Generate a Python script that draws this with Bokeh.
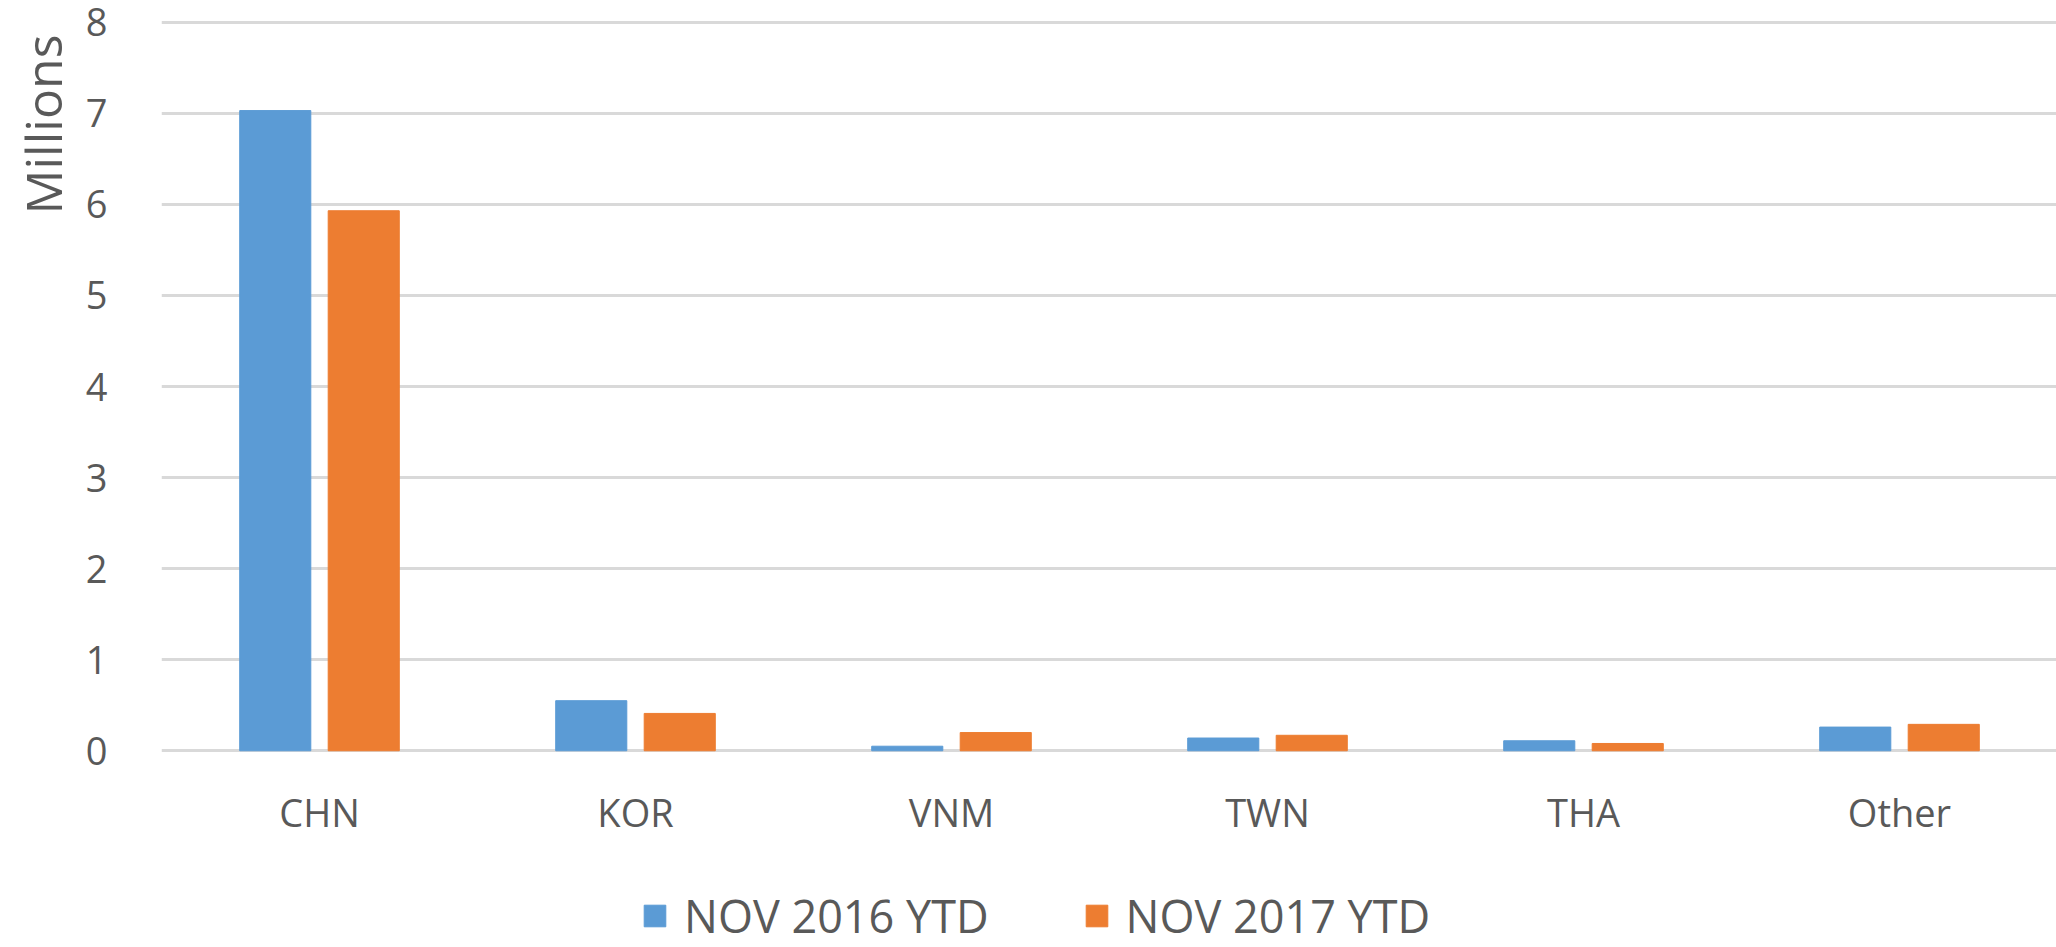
from bokeh.plotting import figure
from bokeh.layouts import column
from bokeh.models import (ColumnDataSource, Range1d, FixedTicker, Legend, LegendItem, Title)
from bokeh.embed import file_html
from bokeh.resources import INLINE

categories = ["CHN", "KOR", "VNM", "TWN", "THA", "Other"]
nov_2016_ytd = [7.03, 0.55, 0.05, 0.14, 0.11, 0.26]
nov_2017_ytd = [5.93, 0.41, 0.20, 0.17, 0.08, 0.29]
series_names = ["NOV 2016 YTD", "NOV 2017 YTD"]
y_ticks = [0, 1, 2, 3, 4, 5, 6, 7, 8]

BLUE = "#5b9bd5"
ORANGE = "#ed7d31"
GRID = "#d9d9d9"
TEXT = "#595959"
FONT = "Open Sans"

centers = [i + 0.5 for i in range(len(categories))]
src = ColumnDataSource(dict(
    x1=[c - 0.14 for c in centers], x2=[c + 0.14 for c in centers],
    a=nov_2016_ytd, b=nov_2017_ytd,
))

W, H = 2056, 947
LEG_H = 62
MAIN_H = H - LEG_H
FW, FH = 1896, 734
TOP, LEFT = 19, 160
BOTTOM = MAIN_H - TOP - FH
p = figure(frame_width=FW, frame_height=FH, output_backend="svg", toolbar_location=None,
           x_range=Range1d(0, 6), y_range=Range1d(-0.03, 8.03),
           min_border_left=LEFT, min_border_right=0, min_border_top=TOP,
           min_border_bottom=BOTTOM)
p.outline_line_color = None
p.background_fill_color = "white"
p.border_fill_color = "white"

p.vbar(x="x1", top="a", bottom=0, width=0.225, source=src,
       fill_color=BLUE, line_color=BLUE)
p.vbar(x="x2", top="b", bottom=0, width=0.225, source=src,
       fill_color=ORANGE, line_color=ORANGE)

# y axis
p.yaxis.ticker = FixedTicker(ticks=y_ticks)
p.yaxis.axis_line_color = None
p.yaxis.major_tick_line_color = None
p.yaxis.minor_tick_line_color = None
p.yaxis.major_label_text_font = FONT
p.yaxis.major_label_text_font_size = "38px"
p.yaxis.major_label_text_color = TEXT
p.yaxis.major_label_standoff = 48
p.ygrid.ticker = FixedTicker(ticks=y_ticks)
p.ygrid.grid_line_color = GRID
p.ygrid.grid_line_width = 3

# x axis
p.xaxis.ticker = FixedTicker(ticks=centers)
p.xaxis.major_label_overrides = {c: n for c, n in zip(centers, categories)}
p.xaxis.axis_line_color = None
p.xaxis.major_tick_line_color = None
p.xaxis.minor_tick_line_color = None
p.xaxis.major_label_text_font = FONT
p.xaxis.major_label_text_font_size = "38px"
p.xaxis.major_label_text_color = TEXT
p.xaxis.major_label_standoff = 26
p.xgrid.grid_line_color = None

# rotated y title at top-left
p.add_layout(Title(text="Millions", align="right", text_font=FONT,
                   text_font_size="50px", text_font_style="normal",
                   text_color=TEXT, standoff=12, offset=15), "left")

# legend strip below the chart (legend proxies: same data, drawn outside the strip's view)
q = figure(width=W, height=LEG_H, output_backend="svg", toolbar_location=None,
           x_range=Range1d(0, 6), y_range=Range1d(100, 101),
           min_border=0, outline_line_color=None)
q.axis.visible = False
q.grid.visible = False
q.border_fill_color = "white"
g1 = q.vbar(x="x1", top="a", bottom=0, width=0.225, source=src,
            fill_color=BLUE, line_color=BLUE)
g2 = q.vbar(x="x2", top="b", bottom=0, width=0.225, source=src,
            fill_color=ORANGE, line_color=ORANGE)
legend = Legend(items=[LegendItem(label=series_names[0], renderers=[g1]),
                       LegendItem(label=series_names[1], renderers=[g2])],
                orientation="horizontal", location=(480, 1),
                label_text_font=FONT, label_text_font_size="45px",
                label_text_line_height=1.0,
                label_text_color=TEXT, glyph_width=27, glyph_height=27,
                label_standoff=16, spacing=94, border_line_color=None,
                background_fill_alpha=0, margin=0, padding=0)
q.add_layout(legend, "center")

open("out.html", "w").write(file_html(column(p, q, spacing=0), INLINE))
